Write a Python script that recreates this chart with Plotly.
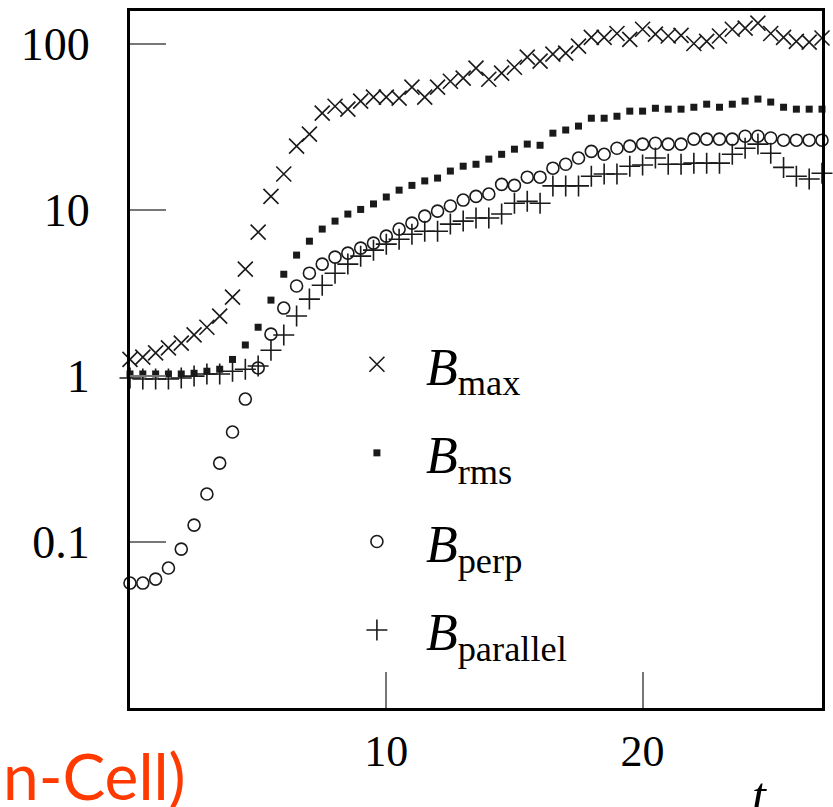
import plotly.graph_objects as go

t = [i * 0.5 for i in range(55)]  # 0 .. 27 step 0.5

b_max = [1.26, 1.30, 1.38, 1.48, 1.58, 1.77, 1.97, 2.30, 2.99, 4.41,
         7.37, 12.1, 16.5, 24.3, 28.7, 38.4, 42.3, 40.6, 45.4, 48.0,
         48.0, 47.3, 55.1, 48.0, 55.1, 59.8, 62.4, 71.7, 61.5, 66.9,
         72.6, 83.5, 79.0, 87.1, 88.3, 97.3, 110, 110, 116, 107,
         123, 115, 112, 113, 101, 104, 112, 123, 125, 134,
         116, 110, 104, 103, 109]

b_rms = [1.03, 1.03, 1.03, 1.03, 1.03, 1.04, 1.07, 1.10, 1.26, 1.54,
         1.97, 2.87, 4.11, 5.36, 6.50, 7.69, 8.59, 9.47, 10.1, 10.9,
         12.0, 13.2, 14.1, 15.0, 15.6, 17.2, 18.4, 18.9, 20.3, 21.7,
         23.3, 25.0, 24.6, 29.1, 30.4, 32.1, 35.8, 35.8, 36.8, 39.5,
         39.5, 41.1, 40.6, 40.6, 41.7, 43.5, 41.7, 43.5, 45.4, 46.7,
         44.8, 41.7, 40.6, 40.6, 40.6]

b_perp = [0.0566, 0.0566, 0.0598, 0.0697, 0.0907, 0.1265, 0.1946, 0.299, 0.460, 0.727,
          1.12, 1.79, 2.57, 3.49, 4.17, 4.73, 5.21, 5.51, 5.90, 6.33,
          6.97, 7.69, 8.35, 9.20, 9.86, 10.6, 11.5, 12.1, 12.5, 14.3,
          14.1, 15.8, 15.8, 17.9, 18.9, 20.6, 22.6, 21.7, 23.6, 24.3,
          25.0, 25.3, 25.0, 25.0, 26.8, 26.8, 26.8, 26.8, 27.9, 27.9,
          27.2, 26.4, 26.4, 26.4, 26.4]

b_par = [0.973, 0.96, 0.96, 0.96, 0.973, 1.0, 1.03, 1.03, 1.07, 1.10,
         1.15, 1.43, 1.77, 2.30, 2.91, 3.53, 4.17, 4.73, 5.28, 5.74,
         6.24, 6.68, 7.16, 7.46, 7.46, 8.24, 8.59, 8.96, 8.96, 9.47,
         11.0, 11.3, 11.0, 14.0, 14.0, 14.0, 16.0, 16.5, 16.5, 18.4,
         18.7, 20.6, 18.9, 18.9, 19.2, 19.2, 19.2, 21.7, 23.6, 25.0,
         22.0, 18.1, 16.0, 15.4, 16.7]

series_names = ["<i>B</i><sub>max</sub>", "<i>B</i><sub>rms</sub>",
                "<i>B</i><sub>perp</sub>", "<i>B</i><sub>parallel</sub>"]

ink = "#1a1a1a"
serif = "Liberation Serif"

fig = go.Figure()
fig.add_trace(go.Scatter(x=t, y=b_max, mode="markers", name=series_names[0], legendgroup="a",
                         marker=dict(symbol="x-thin", size=15, line=dict(width=1.6, color=ink), color=ink),
                         cliponaxis=False))
fig.add_trace(go.Scatter(x=t, y=b_rms, mode="markers", name=series_names[1], legendgroup="b",
                         marker=dict(symbol="square", size=7, color=ink, line=dict(width=0)),
                         cliponaxis=False))
fig.add_trace(go.Scatter(x=t, y=b_perp, mode="markers", name=series_names[2], legendgroup="c",
                         marker=dict(symbol="circle-open", size=12, line=dict(width=1.6, color=ink), color=ink),
                         cliponaxis=False))
fig.add_trace(go.Scatter(x=t, y=b_par, mode="markers", name=series_names[3], legendgroup="d",
                         marker=dict(symbol="cross-thin", size=15, line=dict(width=1.6, color=ink), color=ink),
                         cliponaxis=False))

fig.update_layout(
    width=833, height=807,
    margin=dict(l=130, r=8, t=10, b=99),
    paper_bgcolor="white", plot_bgcolor="white",
    showlegend=True,
    legend=dict(x=0.286, y=0.551, xanchor="left", yanchor="top",
                font=dict(family=serif, size=52, color="black"),
                bgcolor="rgba(0,0,0,0)", tracegroupgap=18, itemwidth=88),
    xaxis=dict(range=[0, 27], tickvals=[10, 20], ticktext=["10", "20"],
               ticks="inside", ticklen=36, tickwidth=1.5, tickcolor="#777",
               showline=True, linewidth=3, linecolor="black", mirror=True,
               showgrid=False, zeroline=False,
               tickfont=dict(family=serif, size=44, color="black"), ticklabelstandoff=2),
    yaxis=dict(type="log", range=[-2, 2.2], tickvals=[0.1, 1, 10, 100], ticktext=["0.1", "1", "10", "100"],
               ticks="inside", ticklen=36, tickwidth=1.5, tickcolor="#777",
               showline=True, linewidth=3, linecolor="black", mirror=True,
               showgrid=False, zeroline=False,
               tickfont=dict(family=serif, size=46, color="black"), ticklabelstandoff=28),
    annotations=[
        dict(text="<i>t</i>", xref="paper", yref="paper", x=(762 - 130) / 695, y=-(795 - 708) / 698,
             xanchor="center", yanchor="middle", showarrow=False,
             font=dict(family=serif, size=50, color="black")),
        dict(text="n-Cell)", xref="paper", yref="paper", x=-130 / 695, y=-(776 - 708) / 698,
             xanchor="left", yanchor="middle", showarrow=False,
             font=dict(family="Lato", size=64, color="#FF3A00")),
    ],
)

fig.write_html("out.html")
